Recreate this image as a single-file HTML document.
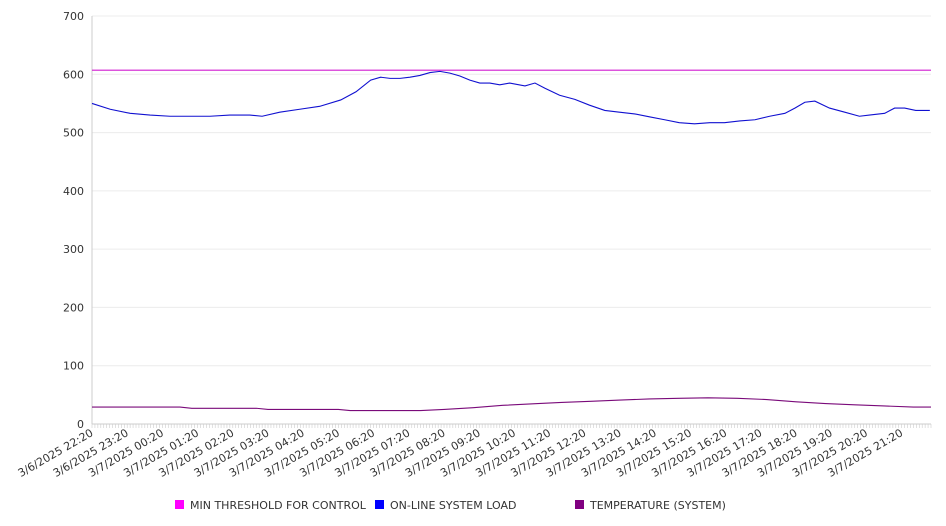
<!DOCTYPE html>
<html><head><meta charset="utf-8"><style>
body{margin:0;background:#fff;font-family:"DejaVu Sans","Liberation Sans",sans-serif;}
svg{display:block}
</style></head><body>
<svg id="chart" width="946" height="526" xmlns="http://www.w3.org/2000/svg"></svg>
<script>
const yTicks=[0,100,200,300,400,500,600,700];
const xLabels=["3/6/2025 22:20","3/6/2025 23:20","3/7/2025 00:20","3/7/2025 01:20","3/7/2025 02:20","3/7/2025 03:20","3/7/2025 04:20","3/7/2025 05:20","3/7/2025 06:20","3/7/2025 07:20","3/7/2025 08:20","3/7/2025 09:20","3/7/2025 10:20","3/7/2025 11:20","3/7/2025 12:20","3/7/2025 13:20","3/7/2025 14:20","3/7/2025 15:20","3/7/2025 16:20","3/7/2025 17:20","3/7/2025 18:20","3/7/2025 19:20","3/7/2025 20:20","3/7/2025 21:20"];
const threshold=607;
const loadMinutes=[0,31,65,99,133,167,201,235,269,290,320,354,388,424,450,475,492,508,525,542,559,576,593,610,627,644,661,678,695,712,738,755,772,797,823,848,874,899,925,950,976,1001,1027,1053,1078,1104,1130,1155,1181,1198,1215,1232,1257,1283,1308,1325,1351,1368,1385,1404,1428];
const loadValues=[550,540,533,530,528,528,528,530,530,528,535,540,545,556,570,590,595,593,593,595,598,603,605,602,597,590,585,585,582,585,580,585,576,564,557,547,538,535,532,527,522,517,515,517,517,520,522,528,533,542,552,554,542,535,528,530,533,542,542,538,538];
const tempMinutes=[0,150,170,280,300,420,440,560,600,650,700,760,800,850,900,950,1000,1050,1100,1150,1200,1250,1300,1350,1400,1430];
const tempValues=[29,29,27,27,25,25,23,23,25,28,32,35,37,39,41,43,44,45,44,42,38,35,33,31,29,29];
const totalMinutes=1430;
const svg=document.getElementById('chart');
const NS='http://www.w3.org/2000/svg';
const X0=92,X1=931,Y0=424,Y1=16,VMAX=700;
const xs=m=>X0+m/totalMinutes*(X1-X0);
const ys=v=>Y0-v/VMAX*(Y0-Y1);
function el(t,a){const e=document.createElementNS(NS,t);for(const k in a)e.setAttribute(k,a[k]);svg.appendChild(e);return e;}
yTicks.forEach(v=>{
  const g=el('line',{x1:X0,x2:X1,y1:ys(v),y2:ys(v),stroke:v===0?'#ccc':'#ececec','stroke-width':1});
  
  
  const t=el('text',{x:84,y:ys(v)+4,'text-anchor':'end','font-size':11,fill:'#333'});
  t.textContent=v;
  
  
});
const ax=el('line',{x1:X0,x2:X0,y1:Y1,y2:Y0,stroke:'#ccc'});


for(let m=0;m<=totalMinutes;m+=5){
  const tk=el('line',{x1:xs(m),x2:xs(m),y1:Y0,y2:Y0+4,stroke:'#ccc','stroke-width':0.6});
  
  
}
xLabels.forEach((s,i)=>{
  const x=xs(i*60)+2,y=Y0+11;
  const t=el('text',{x:x,y:y,'text-anchor':'end','font-size':11,fill:'#333',transform:`rotate(-30 ${x} ${y})`});
  t.textContent=s;
  
  
});
const th=el('line',{x1:X0,x2:X1,y1:ys(threshold),y2:ys(threshold),stroke:'#d11bd1','stroke-width':1.2});


function poly(ms,vs,color,name){
  const p=el('polyline',{points:ms.map((m,i)=>xs(m)+','+ys(vs[i])).join(' '),fill:'none',stroke:color,'stroke-width':1.1});
  
  
}
poly(loadMinutes,loadValues,'#1010d0','online-system-load-line');
poly(tempMinutes,tempValues,'#7a0a7a','temperature-line');
const legend=[["MIN THRESHOLD FOR CONTROL","#ff00ff",175],["ON-LINE SYSTEM LOAD","#0000ff",375],["TEMPERATURE (SYSTEM)","#800080",575]];
legend.forEach(([label,c,x])=>{
  const r=el('rect',{x:x,y:500,width:9,height:9,fill:c});
  
  
  const t=el('text',{x:x+15,y:509,'font-size':11,fill:'#333'});
  t.textContent=label;
  
  
});
</script>
</body></html>
